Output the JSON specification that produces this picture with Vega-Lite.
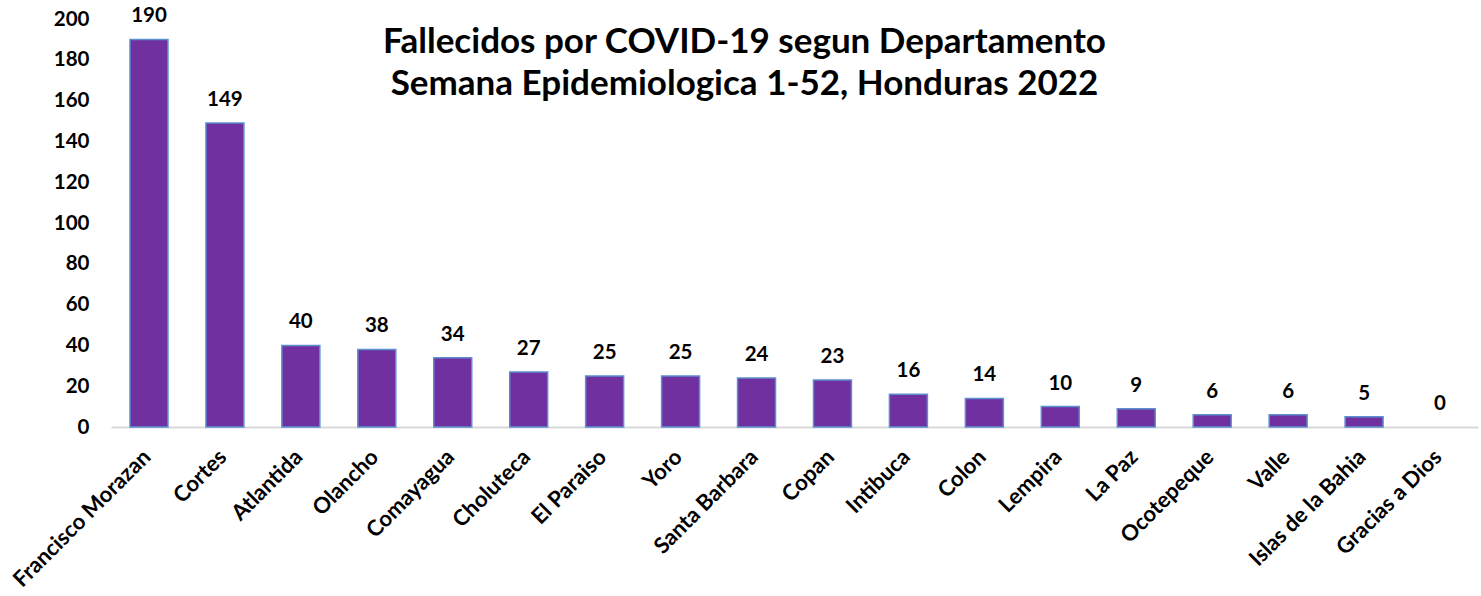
{
  "$schema": "https://vega.github.io/schema/vega-lite/v6.json",
  "width": 1367,
  "height": 408,
  "autosize": {"type": "none"},
  "padding": {"left": 111, "top": 19, "right": 3, "bottom": 169},
  "background": "white",
  "title": {
    "text": ["Fallecidos por COVID-19 segun Departamento", "Semana Epidemiologica 1-52, Honduras 2022"],
    "font": "Lato",
    "fontSize": 35,
    "fontWeight": "bold",
    "color": "#000000",
    "anchor": "middle",
    "dx": -50,
    "offset": -96,
    "lineHeight": 42
  },
  "data": {
    "values": [
      {"dep": "Francisco Morazan", "v": 190},
      {"dep": "Cortes", "v": 149},
      {"dep": "Atlantida", "v": 40},
      {"dep": "Olancho", "v": 38},
      {"dep": "Comayagua", "v": 34},
      {"dep": "Choluteca", "v": 27},
      {"dep": "El Paraiso", "v": 25},
      {"dep": "Yoro", "v": 25},
      {"dep": "Santa Barbara", "v": 24},
      {"dep": "Copan", "v": 23},
      {"dep": "Intibuca", "v": 16},
      {"dep": "Colon", "v": 14},
      {"dep": "Lempira", "v": 10},
      {"dep": "La Paz", "v": 9},
      {"dep": "Ocotepeque", "v": 6},
      {"dep": "Valle", "v": 6},
      {"dep": "Islas de la Bahia", "v": 5},
      {"dep": "Gracias a Dios", "v": 0}
    ]
  },
  "encoding": {
    "x": {
      "field": "dep",
      "type": "nominal",
      "sort": null,
      "scale": {"paddingInner": 0.5, "paddingOuter": 0.25},
      "axis": {
        "title": null,
        "labelAngle": -45,
        "labelAlign": "right",
        "labelBaseline": "middle",
        "labelFont": "Lato",
        "labelFontSize": 22,
        "labelFontWeight": "bold",
        "labelColor": "#000000",
        "labelPadding": 26,
        "labelOffset": -2,
        "ticks": false,
        "domainColor": "#d9d9d9",
        "domainWidth": 2,
        "labelLimit": 300
      }
    },
    "y": {
      "field": "v",
      "type": "quantitative",
      "scale": {"domain": [0, 200]},
      "axis": {
        "title": null,
        "values": [0, 20, 40, 60, 80, 100, 120, 140, 160, 180, 200],
        "grid": false,
        "domain": false,
        "ticks": false,
        "labelFont": "Lato",
        "labelFontSize": 20.5,
        "labelFontWeight": "bold",
        "labelColor": "#000000",
        "labelPadding": 22
      }
    }
  },
  "layer": [
    {
      "mark": {"type": "bar", "color": "#7030A0", "stroke": "#5B8FD0", "strokeWidth": 1.5},
      "encoding": {
        "strokeOpacity": {"condition": {"test": "datum.v > 0", "value": 1}, "value": 0}
      }
    },
    {
      "mark": {"type": "text", "font": "Lato", "fontSize": 20.5, "fontWeight": "bold", "color": "#000000", "baseline": "alphabetic", "dy": -17},
      "encoding": {"text": {"field": "v", "type": "quantitative"}}
    }
  ],
  "config": {"view": {"stroke": null}}
}
